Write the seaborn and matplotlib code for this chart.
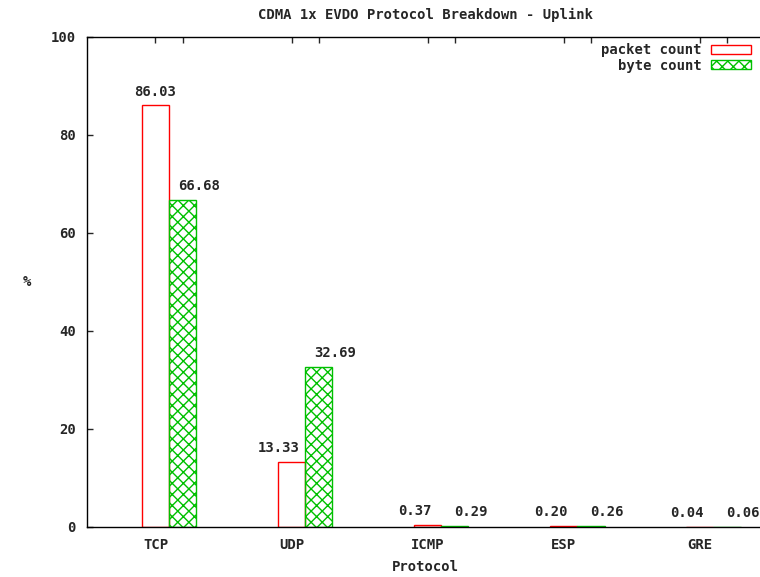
import numpy as np
import pandas as pd
import seaborn as sns
import matplotlib.pyplot as plt
from matplotlib.patches import Patch
from matplotlib.ticker import FixedLocator

protocols = ["TCP", "UDP", "ICMP", "ESP", "GRE"]
packet_count = [86.03, 13.33, 0.37, 0.20, 0.04]
byte_count = [66.68, 32.69, 0.29, 0.26, 0.06]
metrics = ["packet count", "byte count"]
colors = ["#ff0000", "#00c000"]

df = pd.DataFrame({
    "Protocol": protocols * 2,
    "percent": packet_count + byte_count,
    "metric": [metrics[0]] * len(protocols) + [metrics[1]] * len(protocols),
})

sns.set_style("white")
plt.rcParams['font.family'] = ['DejaVu Sans Mono']
plt.rcParams['font.weight'] = 'bold'
plt.rcParams['font.size'] = 10
plt.rcParams['hatch.linewidth'] = 1.0

fig = plt.figure(figsize=(7.6, 5.77), dpi=100)
ax = fig.add_axes([87 / 760, 50 / 577, 676 / 760, 490 / 577])

sns.barplot(data=df, x="Protocol", y="percent", hue="metric", palette=colors,
            width=0.4, fill=False, linewidth=1.0, legend=False, ax=ax)

# hatch the byte count bars
for bar in ax.containers[1]:
    bar.set_hatch("xxx")
    bar.set_edgecolor(colors[1])

# value labels (gnuplot put them a bit off-center)
red_dx = [0, -9.4, -9.4, -9.4, -9.4]
green_dx = [11.5] * 5
for cont, vals, dxs in zip(ax.containers, [packet_count, byte_count], [red_dx, green_dx]):
    for bar, v, dx in zip(cont, vals, dxs):
        ax.annotate(f"{v:.2f}", (bar.get_x() + bar.get_width() / 2, v),
                    xytext=(dx, 5), textcoords="offset points",
                    ha="center", va="bottom", fontsize=10, fontweight="bold")

x = np.arange(len(protocols))
ax.set_xticks(x - 0.1)
ax.set_xticklabels(protocols, fontweight="bold")
ax.xaxis.set_minor_locator(FixedLocator(x + 0.1))
ax.set_xlim(-0.603, 4.364)
ax.set_ylim(0, 100)
ax.set_yticks([0, 20, 40, 60, 80, 100])
ax.tick_params(axis="x", which="both", direction="in", length=4, top=True, width=1, pad=8)
ax.tick_params(axis="y", direction="in", length=4, left=True, right=False, width=1, pad=8)

for s in ax.spines.values():
    s.set_color("black")
    s.set_linewidth(1)

ax.set_title("CDMA 1x EVDO Protocol Breakdown - Uplink", fontsize=10, fontweight="bold", pad=13)
ax.set_xlabel("Protocol", fontweight="bold", labelpad=6)
ax.set_ylabel("%", fontweight="bold", rotation=0, va="center", ha="center")
ax.yaxis.set_label_coords((27 - 87) / 676, 0.5)

handles = [Patch(facecolor="white", edgecolor=colors[0], linewidth=1.0, label=metrics[0]),
           Patch(facecolor="white", edgecolor=colors[1], hatch="xxx", linewidth=1.0, label=metrics[1])]
ax.legend(handles=handles, loc="upper right", frameon=False, markerfirst=False,
          handlelength=2.9, handleheight=0.6, handletextpad=0.7, labelspacing=0.1,
          borderaxespad=0.2, bbox_to_anchor=(0.995, 1.004))

fig.savefig("out.png", dpi=100)
